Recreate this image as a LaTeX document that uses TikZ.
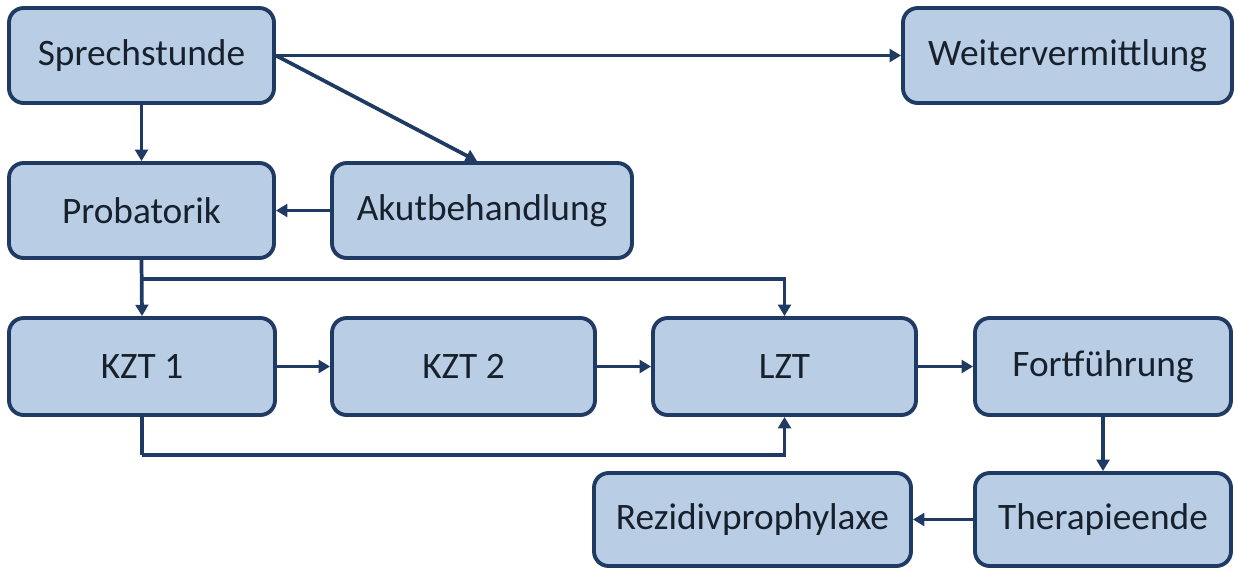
\documentclass[tikz,border=0pt]{standalone}
\usepackage{fontspec}
\setmainfont{Carlito}
\usetikzlibrary{arrows.meta,calc}
\definecolor{boxfill}{HTML}{B9CDE5}
\definecolor{boxline}{HTML}{1F3B63}
\definecolor{boxtext}{HTML}{17212E}
\tikzset{
  px/.style={x=0.75pt,y=-0.75pt},
  box/.style n args={2}{draw=boxline, fill=boxfill, line width=2.9pt, rounded corners=11pt,
    inner sep=0pt, minimum width=#1*0.75pt, minimum height=#2*0.75pt,
    text=boxtext, font=\fontsize{28}{34}\selectfont},
  conn/.style={draw=boxline, line width=2.8pt, -{Triangle[length=8.5pt,width=9.5pt]}},
  plain/.style={draw=boxline, line width=2.8pt}
}
\begin{document}
\begin{tikzpicture}[px]
\useasboundingbox (0,0) rectangle (1235,568);
\node[box={265}{95}] (spr) at (141.5,55.5) {Sprechstunde};
\node[box={329}{95}] (wei) at (1067.5,55.5) {Weitervermittlung};
\node[box={265}{95}] (pro) at (141.5,210.5) {Probatorik};
\node[box={300}{95}] (aku) at (482,210.5) {Akutbehandlung};
\node[box={266}{97}] (k1) at (142,366.5) {KZT 1};
\node[box={263}{97}] (k2) at (463.5,366.5) {KZT 2};
\node[box={263}{97}] (lzt) at (784.5,366.5) {LZT};
\node[box={256}{97}] (fort) at (1103,366.5) {Fortführung};
\node[box={317}{93}] (rez) at (752.5,519.5) {Rezidivprophylaxe};
\node[box={256}{93}] (ther) at (1103,519.5) {Therapieende};
\coordinate (akutop) at ($(aku.north)+(-5,0)$);
\coordinate (j1) at ($(pro.south)+(0,19)$);
\coordinate (j2) at ($(k1.south)+(0,38)$);
\draw[conn] (spr.south) -- (pro.north);
\draw[conn] (spr.east) -- (wei.west);
\draw[conn] (spr.east) -- (akutop);
\draw[conn] (aku.west) -- (pro.east);
\draw[conn] (pro.south) -- (k1.north);
\draw[conn] (j1) -| (lzt.north);
\draw[conn] (k1.east) -- (k2.west);
\draw[conn] (k2.east) -- (lzt.west);
\draw[conn] (lzt.east) -- (fort.west);
\draw[plain] (k1.south) -- (j2);
\draw[conn] (j2) -| (lzt.south);
\draw[conn] (fort.south) -- (ther.north);
\draw[conn] (ther.west) -- (rez.east);
\end{tikzpicture}
\end{document}
